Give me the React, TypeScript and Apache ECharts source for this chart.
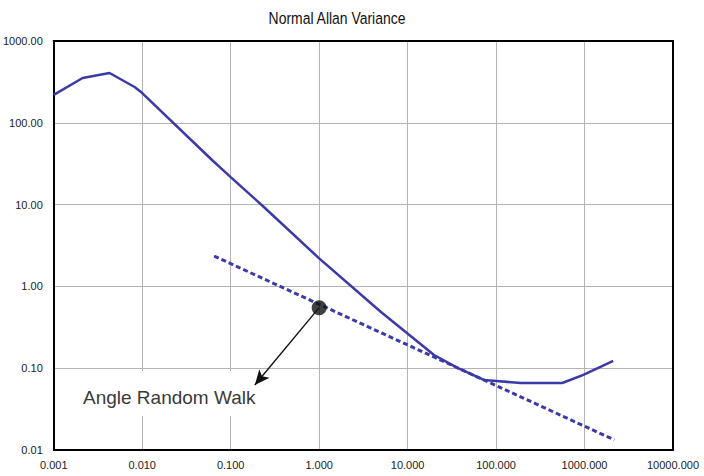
import { useEffect, useRef } from "react";
import * as echarts from "echarts";

const chartTitle = "Normal Allan Variance";
const annotationText = "Angle Random Walk";
const measuredTau = [0.001, 0.00212, 0.00427, 0.0082, 0.01, 0.0615, 0.1, 0.237, 1.0, 5.0, 19.9, 37.1, 72.7, 100, 190, 560, 970, 2110];
const measuredSigma = [219, 353, 406, 274, 231, 35.1, 21.7, 9.35, 2.2, 0.486, 0.145, 0.1004, 0.0718, 0.0698, 0.0659, 0.0659, 0.083, 0.1225];
const arwTau = [0.065, 2170];
const arwSigma = [2.35, 0.0133];
const markerPoint = [1, 0.55];
const arrowTip = [0.1875, 0.0623];
const xRange = [0.001, 10000];
const yRange = [0.01, 1000];

const SANS = "'Liberation Sans', Arial, Helvetica, sans-serif";
const BLUE = "#3a3aa8";

export default function App() {
  const ref = useRef<HTMLDivElement>(null);
  useEffect(() => {
    if (!ref.current) return;
    const chart = echarts.init(ref.current, null, { renderer: "svg" });
    const frameAxis = {
      type: "log" as const,
      logBase: 10,
      axisLine: { show: true, onZero: false, lineStyle: { color: "#000", width: 2 } },
      axisTick: { show: false },
      axisLabel: { show: false },
      splitLine: { show: false },
    };
    chart.setOption({
      animation: false,
      backgroundColor: "#fff",
      grid: { left: 51, right: 31, top: 41, bottom: 26 },
      xAxis: [
        {
          type: "log",
          logBase: 10,
          min: xRange[0],
          max: xRange[1],
          position: "bottom",
          axisLine: { show: true, onZero: false, lineStyle: { color: "#000", width: 2 } },
          axisTick: { show: false },
          axisLabel: {
            margin: 9,
            color: "#222",
            fontSize: 11,
            fontFamily: SANS,
            formatter: (v: number) => v.toFixed(3),
          },
          splitLine: { show: true, lineStyle: { color: "#b4b4b4", width: 1 } },
        },
        { ...frameAxis, min: xRange[0], max: xRange[1], position: "top" },
      ],
      yAxis: [
        {
          type: "log",
          logBase: 10,
          min: yRange[0],
          max: yRange[1],
          position: "left",
          axisLine: { show: true, onZero: false, lineStyle: { color: "#000", width: 2 } },
          axisTick: { show: false },
          axisLabel: {
            margin: 11,
            color: "#222",
            fontSize: 11,
            fontFamily: SANS,
            formatter: (v: number) => v.toFixed(2),
          },
          splitLine: { show: true, lineStyle: { color: "#b4b4b4", width: 1 } },
        },
        { ...frameAxis, min: yRange[0], max: yRange[1], position: "right" },
      ],
      graphic: [
        {
          type: "text",
          z: 3,
          x: 337,
          y: 18,
          scaleX: 0.82,
          style: {
            text: chartTitle,
            fontSize: 17,
            fontFamily: SANS,
            fill: "#111",
            textAlign: "center",
            textVerticalAlign: "middle",
          },
          silent: true,
        },
        {
          type: "rect",
          z: 1,
          shape: { x: 70, y: 371, width: 200, height: 45 },
          style: { fill: "#fff" },
          silent: true,
        },
        {
          type: "text",
          z: 3,
          x: 83,
          y: 397,
          style: {
            text: annotationText,
            fontSize: 19,
            fontFamily: SANS,
            fill: "#3a3a3a",
            textAlign: "left",
            textVerticalAlign: "middle",
          },
          silent: true,
        },
      ],
      series: [
        {
          type: "line",
          name: "Allan deviation",
          data: measuredTau.map((t, i) => [t, measuredSigma[i]]),
          showSymbol: false,
          symbol: "none",
          lineStyle: { color: BLUE, width: 2.5 },
          z: 4,
        },
        {
          type: "line",
          name: "ARW slope",
          data: arwTau.map((t, i) => [t, arwSigma[i]]),
          showSymbol: false,
          symbol: "none",
          lineStyle: { color: BLUE, width: 3, type: [5, 3] },
          z: 4,
        },
        {
          type: "scatter",
          name: "ARW point",
          data: [markerPoint],
          symbolSize: 15,
          itemStyle: { color: "#111" },
          z: 6,
          markLine: {
            silent: true,
            symbol: ["none", "arrow"],
            symbolSize: [10, 15],
            label: { show: false },
            lineStyle: { color: "#111", width: 1.4, type: "solid" },
            data: [[{ coord: markerPoint }, { coord: arrowTip }]],
            z: 5,
          },
        },
      ],
    });
    return () => chart.dispose();
  }, []);
  return <div ref={ref} style={{ width: 704, height: 476, position: "absolute", left: 0, top: 0 }} />;
}
